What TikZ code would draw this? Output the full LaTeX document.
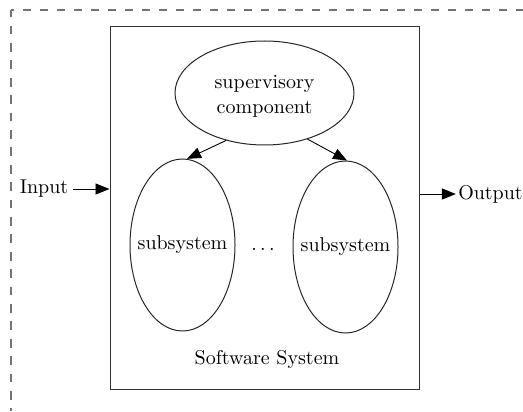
\documentclass[tikz,border=0pt]{standalone}
\usetikzlibrary{arrows.meta,shapes.geometric}
\begin{document}
\begin{tikzpicture}[x=0.5pt,y=-0.5pt,
  every node/.style={font=\fontsize{10}{12.5}\selectfont},
  framebox/.style={draw=black!80,line width=0.5pt,inner sep=0pt},
  oval/.style={draw=black!85,ellipse,line width=0.5pt,inner sep=0pt},
  arr/.style={line width=0.45pt,-{Triangle[length=7pt,width=5.5pt]}},
  frame/.style={draw=black!55,line width=0.6pt}]
\useasboundingbox (0,0) rectangle (523,411);

% outer dashed frame (runs off the page to the right and bottom)
\coordinate (corner) at (11,10);
\coordinate (frametop) at (523,10);
\coordinate (framebot) at (11,411);
\draw[frame,dash pattern=on 4.25pt off 4.25pt,dash phase=2.75pt] (corner) -- (frametop);
\draw[frame,dash pattern=on 4.4pt off 4.3pt,dash phase=0.9pt] (corner) -- (framebot);

% software system box
\node[framebox,minimum width=154.5pt,minimum height=181pt] (sys) at (264.5,208) {};
\node (systitle) at (267,359) {Software System};

% components
\node[oval,minimum width=89.5pt,minimum height=52pt] (sup) at (264.5,93) {};
\node[align=center] (suptext) at (264.5,96.5) {supervisory\\component};
\node[oval,minimum width=52.5pt,minimum height=86pt] (sub1) at (182.5,245) {};
\node[oval,minimum width=52.5pt,minimum height=86pt] (sub2) at (345.5,247) {};
\node (sub1text) at (sub1) {subsystem};
\node (sub2text) at (sub2) {subsystem};
\node[inner sep=0pt] (dots) at (263,249) {$\ldots$};

\draw[arr] (sup.231.6) -- (sub1.87);
\draw[arr] (sup.313.2) -- (sub2.89);

% input and output
\node[inner sep=2pt] (in) at (44,189) {Input};
\node[inner sep=1pt] (out) at (490.5,194) {Output};
\draw[arr] (in.east) -- (in.east -| sys.west);
\draw[arr] (out.west -| sys.east) -- (out.west);
\end{tikzpicture}
\end{document}
